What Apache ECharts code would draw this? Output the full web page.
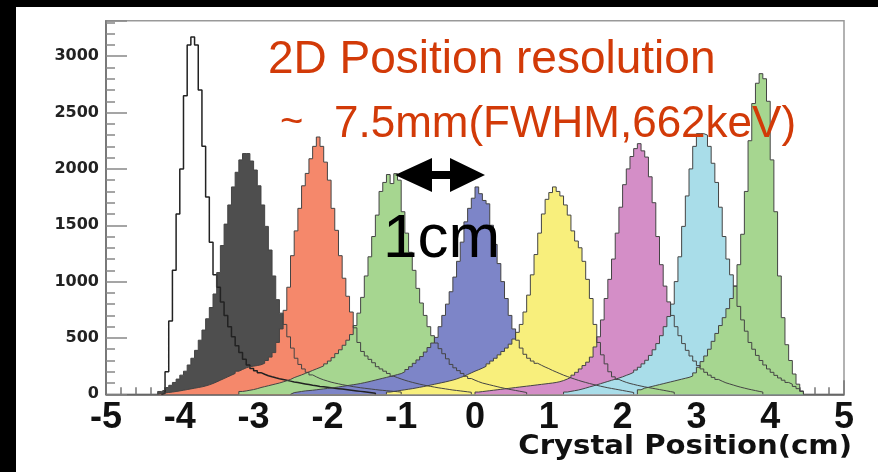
<!DOCTYPE html>
<html>
<head>
<meta charset="utf-8">
<script src="https://cdn.jsdelivr.net/npm/echarts@6/dist/echarts.min.js"></script>
<style>
html, body { margin: 0; padding: 0; background: #000; width: 878px; height: 472px; overflow: hidden; }
#chart { position: absolute; left: 16px; top: 7px; width: 862px; height: 465px; background: #fff; }
</style>
</head>
<body>
<div id="chart"></div>
<script>
// Histogram bin width (cm) and first bin edge of each crystal peak
const binWidth = 0.05;
const peakStarts = [-4.25, -4.30, -4.30, -3.20, -2.50, -1.20, 0.00, 1.20, 2.20];

// Counts per bin, one list per crystal
const countsWhite = [10, 200, 650, 1100, 1600, 2000, 2650, 3100, 3170, 3100, 2700, 2200, 1750, 1350, 1060, 950, 820, 700, 600, 510, 430, 370, 310, 260, 230, 210, 192, 178, 165, 155, 146, 138, 131, 124, 117, 110, 104, 98, 92, 86, 80, 75, 70, 66, 62, 58, 54, 50, 46, 42, 38, 34, 30, 26, 22, 18, 14, 10];
const countsBlack = [25, 40, 60, 80, 105, 135, 170, 205, 260, 320, 390, 480, 570, 670, 770, 890, 1080, 1320, 1510, 1680, 1840, 1970, 2080, 2136, 2136, 2070, 1990, 1850, 1680, 1490, 1280, 1050, 840, 720, 620, 510, 410, 320, 265, 225, 195, 172, 155, 140, 128, 118, 108, 100, 93, 86, 80, 74, 68, 63, 58, 54, 50, 46, 42, 38, 35, 32, 29, 26, 23, 20];
const countsOrange = [8, 12, 16, 20, 25, 30, 36, 42, 48, 54, 60, 66, 74, 84, 96, 110, 125, 140, 155, 170, 185, 205, 220, 235, 245, 250, 255, 262, 275, 300, 330, 370, 460, 580, 745, 950, 1230, 1450, 1650, 1850, 1960, 2090, 2200, 2283, 2200, 2060, 1900, 1650, 1455, 1230, 1030, 870, 730, 590, 460, 380, 340, 310, 280, 245, 225, 205, 185, 160, 148, 136, 125, 115, 106, 98, 90, 83, 76, 70, 64, 58, 53, 48, 43, 38, 34, 30, 26, 22, 18];
const countsGreen = [25, 30, 36, 42, 50, 60, 68, 76, 84, 92, 100, 110, 120, 132, 148, 160, 172, 185, 198, 212, 225, 238, 252, 270, 295, 325, 361, 395, 435, 480, 530, 610, 720, 860, 1050, 1220, 1400, 1590, 1800, 1880, 1950, 1870, 1958, 1900, 1620, 1430, 1260, 1100, 940, 810, 700, 600, 520, 455, 405, 360, 315, 265, 235, 210, 185, 160, 140, 125, 112, 100, 92, 84, 76, 68, 60, 53, 46, 40, 34, 28, 22, 16];
const countsBlue = [15, 20, 25, 30, 33, 36, 40, 44, 48, 52, 56, 60, 65, 70, 75, 80, 85, 90, 96, 103, 110, 118, 126, 134, 142, 150, 158, 166, 175, 184, 200, 220, 245, 275, 305, 335, 375, 415, 455, 505, 600, 700, 800, 910, 1040, 1180, 1350, 1530, 1650, 1740, 1840, 1780, 1720, 1690, 1500, 1330, 1160, 1000, 850, 700, 580, 480, 410, 355, 320, 295, 275, 258, 242, 228, 212, 198, 184, 170, 158, 146, 135, 124, 114, 105, 96, 88, 80, 72, 65, 58, 52, 46, 40, 34, 28, 22, 16];
const countsYellow = [20, 25, 30, 35, 40, 45, 50, 56, 62, 68, 75, 82, 89, 96, 103, 110, 118, 126, 136, 148, 160, 175, 190, 205, 218, 232, 248, 270, 295, 320, 350, 380, 410, 445, 490, 550, 620, 730, 880, 1060, 1240, 1430, 1600, 1730, 1790, 1840, 1800, 1760, 1680, 1590, 1450, 1360, 1300, 1180, 1020, 850, 620, 460, 350, 270, 200, 155, 132, 118, 106, 96, 88, 80, 73, 66, 60, 54, 48, 42, 36, 30, 24, 18];
const countsMagenta = [20, 24, 28, 32, 36, 40, 44, 48, 52, 56, 60, 64, 68, 72, 76, 80, 84, 88, 92, 96, 100, 105, 112, 122, 135, 150, 170, 195, 225, 255, 285, 330, 420, 510, 660, 850, 1020, 1200, 1430, 1660, 1860, 2000, 2110, 2180, 2224, 2160, 2105, 1930, 1700, 1400, 1150, 960, 820, 700, 600, 520, 450, 390, 340, 295, 255, 225, 195, 170, 150, 132, 116, 102, 92, 82, 72, 63, 55, 47, 40, 33, 26, 20];
const countsCyan = [20, 26, 32, 38, 46, 55, 65, 74, 84, 94, 104, 114, 124, 134, 144, 155, 168, 180, 195, 215, 240, 270, 302, 345, 395, 450, 520, 600, 690, 800, 1000, 1220, 1490, 1760, 2000, 2200, 2313, 2313, 2300, 2200, 2050, 1880, 1660, 1400, 1200, 1060, 960, 780, 660, 560, 460, 400, 345, 300, 260, 225, 195, 168, 145, 125, 105, 90, 70, 50, 30];
const countsGreen2 = [40, 55, 62, 70, 78, 86, 94, 102, 110, 118, 126, 134, 142, 150, 162, 190, 240, 290, 340, 400, 470, 540, 610, 680, 760, 850, 960, 1150, 1420, 1800, 2250, 2580, 2760, 2845, 2800, 2600, 2080, 1620, 1050, 680, 440, 300, 180, 90, 25];

const peakCounts = [countsWhite, countsBlack, countsOrange, countsGreen, countsBlue, countsYellow, countsMagenta, countsCyan, countsGreen2];
const peakFills = [null, '#4e4e4e', '#f5886b', '#a6d690', '#7d85c8', '#f8ef7c', '#d48ec7', '#a9dde9', '#a6d690'];

// Axis ranges and ticks
const xMin = -5, xMax = 5, xStep = 1;
const yMin = 0, yMax = 3315, yStep = 500;

function toSteps(start, counts) {
    const pts = [[start, 0]];
    counts.forEach((c, i) => pts.push([+(start + i * binWidth).toFixed(3), c]));
    pts.push([+(start + counts.length * binWidth).toFixed(3), 0]);
    return pts;
}

const chart = echarts.init(document.getElementById('chart'));

const fillSeries = [];
const outlineSeries = [];
peakCounts.forEach((counts, i) => {
    const data = toSteps(peakStarts[i], counts);
    if (peakFills[i]) {
        fillSeries.push({
            type: 'line', step: 'end', symbol: 'none', silent: true, z: 2,
            data,
            lineStyle: { opacity: 0 },
            areaStyle: { color: peakFills[i], opacity: 1 }
        });
    }
    outlineSeries.push({
        type: 'line', step: 'end', symbol: 'none', silent: true, z: 3,
        data,
        lineStyle: { color: i === 0 ? '#222' : '#444', width: i === 0 ? 1.5 : 1 }
    });
});

const red = '#d23a08';

chart.setOption({
    animation: false,
    grid: {
        left: 90, right: 34, top: 13.7, bottom: 77.7,
        show: true, borderColor: '#999', borderWidth: 1.5, backgroundColor: 'transparent'
    },
    xAxis: {
        type: 'value', min: xMin, max: xMax, interval: xStep,
        axisLine: { onZero: false, lineStyle: { color: '#555', width: 1.5 } },
        axisTick: { inside: true, length: 14, lineStyle: { color: '#777', width: 1.5 } },
        minorTick: { show: true, splitNumber: 5, length: 7, lineStyle: { color: '#777', width: 1.5 } },
        splitLine: { show: false },
        axisLabel: { color: '#111', fontFamily: 'Liberation Sans', fontWeight: 'bold', fontSize: 36, margin: 6 }
    },
    yAxis: {
        type: 'value', min: yMin, max: yMax, interval: yStep,
        axisLine: { show: true, onZero: false, lineStyle: { color: '#666', width: 1.5 } },
        axisTick: { inside: true, length: 21, lineStyle: { color: '#888', width: 1.5 } },
        minorTick: { show: true, splitNumber: 5, length: 9, lineStyle: { color: '#888', width: 1.5 } },
        splitLine: { show: false },
        axisLabel: {
            color: '#222', fontFamily: 'DejaVu Sans', fontWeight: 'bold', fontSize: 16, margin: 7,
            showMaxLabel: false,
            formatter: v => (v % yStep === 0 ? String(v) : '')
        }
    },
    graphic: [
        { type: 'text', x: 252, y: 53.5, z: 10, style: { text: '2D Position resolution', font: '46px "Liberation Sans"', fill: red, verticalAlign: 'middle' } },
        { type: 'text', x: 264, y: 116, z: 10, style: { text: '~', font: '40px "Liberation Sans"', fill: red, verticalAlign: 'middle' } },
        { type: 'text', x: 318, y: 117.5, z: 10, style: { text: '7.5mm(FWHM,662keV)', font: '44px "Liberation Sans"', fill: red, verticalAlign: 'middle' } },
        { type: 'text', x: 367, y: 232.5, z: 10, style: { text: '1cm', font: '62px "Liberation Sans"', fill: '#000', verticalAlign: 'middle' } },
        {
            type: 'polygon', z: 10,
            shape: { points: [[379, 168], [416, 151], [416, 164], [434, 164], [434, 151], [469, 168], [434, 185], [434, 172], [416, 172], [416, 185]] },
            style: { fill: '#000' }
        },
        { type: 'text', x: 836, y: 439.5, z: 10, scaleX: 1.08, originX: 0, originY: 0, style: { text: 'Crystal Position(cm)', font: 'bold 27px "DejaVu Sans"', fill: '#111', align: 'right', verticalAlign: 'middle' } }
    ],
    series: fillSeries.concat(outlineSeries)
});
</script>
</body>
</html>
